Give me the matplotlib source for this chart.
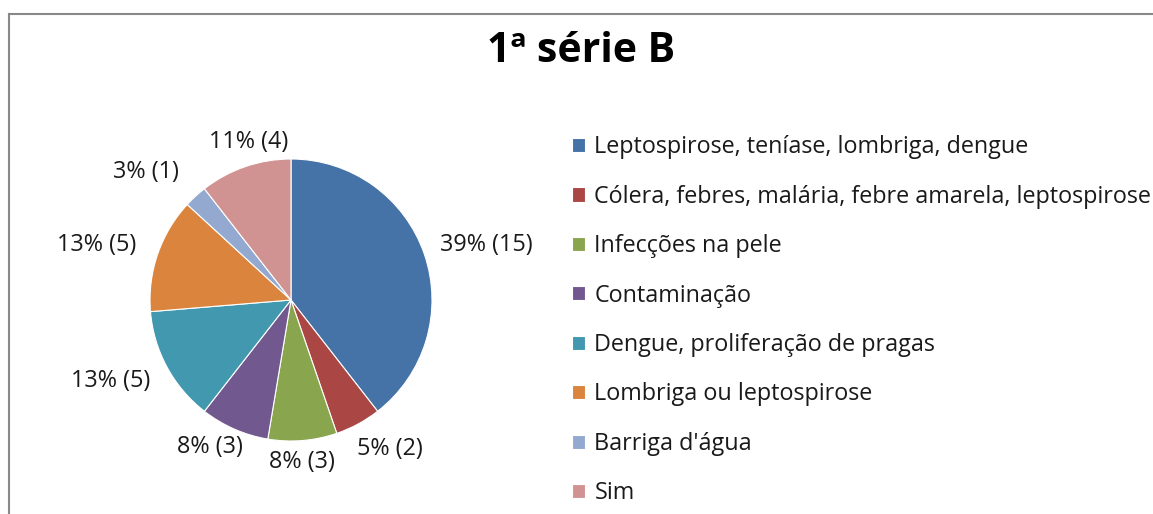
"""Pie chart: 1ª série B, answers with count and percentage labels."""
import numpy as np
import matplotlib
matplotlib.use("Agg")
import matplotlib.pyplot as plt
from matplotlib.lines import Line2D

categories = [
    "Leptospirose, teníase, lombriga, dengue",
    "Cólera, febres, malária, febre amarela, leptospirose",
    "Infecções na pele",
    "Contaminação",
    "Dengue, proliferação de pragas",
    "Lombriga ou leptospirose",
    "Barriga d'água",
    "Sim",
]
counts = [15, 2, 3, 3, 5, 5, 1, 4]
colors = ["#4572A7", "#AA4643", "#89A54E", "#71588F",
          "#4198AF", "#DB843D", "#93A9CF", "#D19392"]
title = "1ª série B"

# data label placement as Excel put them: distance (pie radii) and angle shift (deg)
label_dist = [1.44, 1.27, 1.15, 1.19, 1.40, 1.43, 1.37, 1.16]
label_shift = [-3.2, 5.2, -0.8, -5.2, -4.2, 3.1, 6.0, -3.8]

plt.rcParams["font.family"] = ["Open Sans", "DejaVu Sans"]

W, H = 1153, 514
fig = plt.figure(figsize=(W / 100, H / 100), dpi=100)

cx, cy, r = 291, 300, 141
ax = fig.add_axes([(cx - r) / W, (H - cy - r) / H, 2 * r / W, 2 * r / H])
wedges, _ = ax.pie(counts, colors=colors, startangle=90, counterclock=False,
                   radius=1, wedgeprops=dict(linewidth=0.8, edgecolor="white"))
ax.set_xlim(-1, 1)
ax.set_ylim(-1, 1)
ax.set_aspect("equal")
ax.axis("off")

total = sum(counts)
for w, n, d, s in zip(wedges, counts, label_dist, label_shift):
    mid = np.deg2rad((w.theta1 + w.theta2) / 2 + s)
    ax.text(d * np.cos(mid), d * np.sin(mid),
            f"{round(100 * n / total):.0f}% ({n})",
            ha="center", va="center", fontsize=16.8, color="#1a1a1a", clip_on=False)

fig.text(581 / W, 1 - 52 / H, title, ha="center", va="center",
         fontsize=29.5, fontweight="bold", color="black")

fig.legend(wedges, categories, loc="upper left",
           bbox_to_anchor=(563 / W, 1 - 126 / H), frameon=False,
           fontsize=16.8, handlelength=0.55, handleheight=0.55,
           handletextpad=0.4, labelspacing=1.09, borderaxespad=0,
           labelcolor="#1a1a1a")

# chart frame (only top and left edges are visible in the crop)
fig.add_artist(Line2D([9 / W, 1], [1 - 14 / H, 1 - 14 / H], color="#888888", lw=1.5,
                      transform=fig.transFigure))
fig.add_artist(Line2D([9 / W, 9 / W], [0, 1 - 14 / H], color="#888888", lw=1.5,
                      transform=fig.transFigure))

fig.savefig("out.png", dpi=100, facecolor="white")
